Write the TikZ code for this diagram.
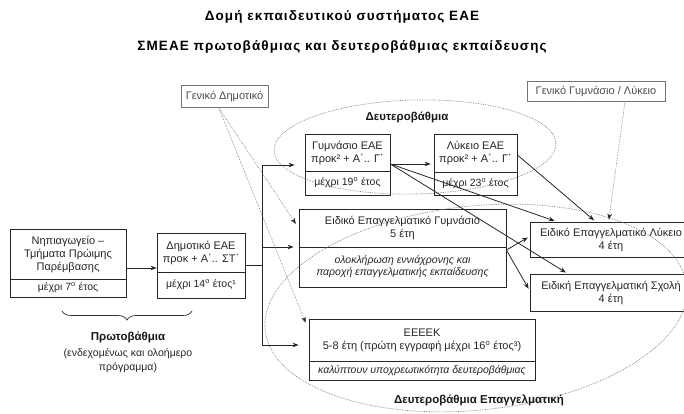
\documentclass[tikz,border=0pt]{standalone}
\usepackage{fontspec}
\setmainfont{Liberation Sans}
\newfontfamily\titlefont[LetterSpace=8]{Liberation Sans}
\usetikzlibrary{arrows.meta,decorations.pathreplacing,calc}
\begin{document}
\begin{tikzpicture}[x=1pt,y=-1pt,
  part/.style={draw=black!85, line width=0.8pt, inner sep=0pt, align=center, font=\fontsize{11}{13}\selectfont, text=black!85},
  itpart/.style={part, font=\fontsize{10.5}{12}\selectfont\itshape},
  gen/.style={draw=black!55, line width=0.7pt, inner sep=0pt, align=center, font=\fontsize{11}{13}\selectfont, text=black!70},
  tip/.style={-{Stealth[length=6pt,width=4.5pt,color=black!85]}},
  arr/.style={draw=black!85, line width=0.8pt, tip},
  plain/.style={draw=black!85, line width=0.8pt},
  garr/.style={draw=black!55, line width=0.6pt, densely dotted, tip},
  ell/.style={draw=black!50, line width=0.7pt, densely dotted},
  lbl/.style={font=\bfseries\fontsize{11.5}{13}\selectfont, text=black!90},
  ttl/.style={font=\titlefont\bfseries\fontsize{13.5}{15}\selectfont, text=black},
]
\useasboundingbox[fill=white] (0,0) rectangle (684,413);

% titles
\node[ttl] (t1txt) at (342,17) {Δομή εκπαιδευτικού συστήματος ΕΑΕ};
\node[ttl] (t2txt) at (342,47) {ΣΜΕΑΕ πρωτοβάθμιας και δευτεροβάθμιας εκπαίδευσης};

% general boxes
\node[gen, minimum width=87, minimum height=22] (genDim) at (224.5,96) {Γενικό Δημοτικό};
\node[gen, minimum width=138, minimum height=20] (genGL) at (596,91) {Γενικό Γυμνάσιο / Λύκειο};

% primary
\node[part, minimum width=116, minimum height=50] (nipT) at (68,254) {Νηπιαγωγείο –\\Τμήματα Πρώιμης\\Παρέμβασης};
\node[part, minimum width=116, minimum height=18, font=\fontsize{10.5}{12}\selectfont] (nipB) at (68,288) {μέχρι 7\textsuperscript{ο} έτος};
\node[part, minimum width=88, minimum height=39] (dimT) at (201,252.5) {Δημοτικό ΕΑΕ\\προκ + Α΄.. ΣΤ΄};
\node[part, minimum width=88, minimum height=26, font=\fontsize{10.5}{12}\selectfont] (dimB) at (201,285) {μέχρι 14\textsuperscript{ο} έτος¹};

% secondary
\node[part, minimum width=85, minimum height=37] (gymT) at (347.5,152.5) {Γυμνάσιο ΕΑΕ\\προκ² + Α΄.. Γ΄};
\node[part, minimum width=85, minimum height=24, font=\fontsize{10.5}{12}\selectfont] (gymB) at (347.5,183) {μέχρι 19\textsuperscript{ο} έτος};
\node[part, minimum width=83, minimum height=38] (lykT) at (475.5,153) {Λύκειο ΕΑΕ\\προκ² + Α΄.. Γ΄};
\node[part, minimum width=83, minimum height=23, font=\fontsize{10.5}{12}\selectfont] (lykB) at (475.5,183.5) {μέχρι 23\textsuperscript{ο} έτος};

% vocational
\node[part, minimum width=207, minimum height=38] (eegT) at (402.5,228) {Ειδικό Επαγγελματικό Γυμνάσιο\\5 έτη};
\node[itpart, minimum width=207, minimum height=40] (eegB) at (402.5,267) {ολοκλήρωση εννιάχρονης και\\παροχή επαγγελματικής εκπαίδευσης};
\node[part, minimum width=162, minimum height=35] (eel) at (611,239.5) {Ειδικό Επαγγελματικό Λύκειο\\4 έτη};
\node[part, minimum width=162, minimum height=37] (ees) at (611,292.5) {Ειδική Επαγγελματική Σχολή\\4 έτη};
\node[part, minimum width=226, minimum height=42] (eekT) at (422,340) {ΕΕΕΕΚ\\5-8 έτη (πρώτη εγγραφή μέχρι 16\textsuperscript{ο} έτος³)};
\node[itpart, minimum width=226, minimum height=19] (eekB) at (422,370.5) {καλύπτουν υποχρεωτικότητα δευτεροβάθμιας};

% ellipses
\draw[ell, rotate around={1.4:(415,147)}] (415,147) ellipse [x radius=141, y radius=47];
\draw[ell, rotate around={6:(476,308)}] (476,308) ellipse [x radius=212, y radius=102];

% labels
\node[lbl] (lblD) at (407,117) {Δευτεροβάθμια};
\node[lbl] (lblDE) at (479,400) {Δευτεροβάθμια Επαγγελματική};
\draw[decorate, decoration={brace, mirror, amplitude=9pt}, draw=black!80, line width=0.7pt] (62,311) -- (192,311);
\node[lbl] (lblP) at (128,337) {Πρωτοβάθμια};
\node[font=\fontsize{10.5}{14}\selectfont, text=black!85, align=center, anchor=north] (lblP2) at (128,345) {(ενδεχομένως και ολοήμερο\\πρόγραμμα)};

% connectors
\coordinate (yn) at (0,268);
\coordinate (t0) at (262,265);
\coordinate (t1) at (262,165);
\coordinate (t2) at (262,247);
\coordinate (t3) at (262,345);
\draw[arr] (nipT.east |- yn) -- (dimT.west |- yn);
\draw[plain] (dimT.east |- t0) -- (t0);
\draw[plain] (t1) -- (t3);
\draw[arr, shorten >=10pt] (t1) -- (gymT.west |- t1);
\draw[arr, shorten >=5pt] (t2) -- (eegT.west |- t2);
\draw[arr, shorten >=10pt] (t3) -- (eekT.west |- t3);

\coordinate (gd) at ($(genDim.south)+(-6,0)$);
\draw[garr, shorten >=5pt] (gd) -- (eegT.west);
\draw[garr, shorten >=8pt] (gd) -- ($(eekT.west)+(0,-10)$);

\coordinate (gs) at ($(gymT.east)+(0,11.5)$);
\draw[arr, shorten >=3pt] (gs) -- (lykT.west |- gs);
\draw[arr, shorten >=2pt] (gs) -- ($(eel.north west)+(27,0)$);
\draw[arr, shorten >=2pt] (gs) -- ($(ees.north west)+(38,0)$);
\coordinate (ls) at ($(lykT.east)+(0,2)$);
\draw[arr, shorten >=2pt] (ls) -- ($(eel.north west)+(66,0)$);
\draw[garr, shorten >=2pt] ($(genGL.south)+(29,0)$) -- ($(eel.north west)+(79,0)$);
\coordinate (eg) at ($(eegB.east)+(0,-17)$);
\draw[arr, shorten >=2pt] (eg) -- ($(eel.west)+(0,-3)$);
\draw[arr, shorten >=2pt] (eg) -- ($(ees.west)+(0,-2)$);
\end{tikzpicture}
\end{document}
